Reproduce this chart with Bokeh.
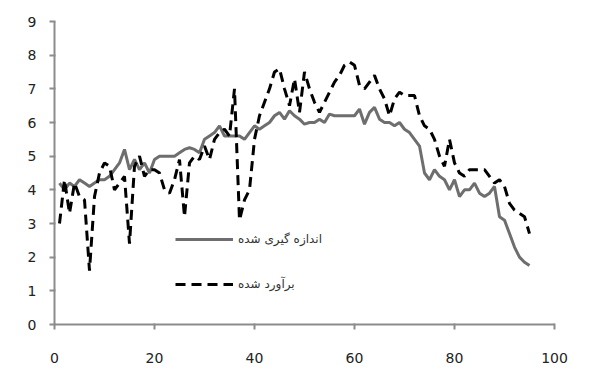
from bokeh.plotting import figure
from bokeh.models import Range1d, FixedTicker, Legend, LegendItem
from bokeh.embed import file_html
from bokeh.resources import INLINE

x_values = list(range(1, 96))

measured = [4.2, 4.0, 4.2, 4.1, 4.3, 4.2, 4.1, 4.2, 4.3, 4.3,
            4.4, 4.6, 4.8, 5.2, 4.6, 4.9, 4.6, 4.8, 4.5, 4.9,
            5.0, 5.0, 5.0, 5.0, 5.1, 5.2, 5.25, 5.2, 5.1, 5.5,
            5.6, 5.7, 5.9, 5.6, 5.6, 5.6, 5.6, 5.5, 5.7, 5.9,
            5.8, 5.9, 6.0, 6.2, 6.3, 6.1, 6.35, 6.2, 6.1, 5.95,
            6.0, 6.0, 6.1, 6.0, 6.25, 6.2, 6.2, 6.2, 6.2, 6.2,
            6.4, 5.95, 6.3, 6.45, 6.1, 6.0, 6.0, 5.9, 6.0, 5.8,
            5.7, 5.5, 5.3, 4.5, 4.3, 4.6, 4.4, 4.3, 4.0, 4.3,
            3.8, 4.0, 4.0, 4.2, 3.9, 3.8, 3.9, 4.1, 3.2, 3.1,
            2.7, 2.3, 2.0, 1.85, 1.75]

estimated = [3.0, 4.3, 3.3, 4.2, 3.8, 3.7, 1.6, 3.8, 4.5, 4.8,
             4.7, 4.0, 4.2, 4.4, 2.4, 4.7, 5.0, 4.4, 4.6, 4.6,
             4.5, 4.0, 3.9, 4.3, 4.9, 3.2, 4.8, 5.0, 4.9, 5.3,
             4.9, 5.5, 5.7, 5.8, 5.6, 7.0, 3.1, 3.7, 4.0, 5.5,
             6.2, 6.6, 7.0, 7.5, 7.6, 7.0, 6.5, 7.3, 6.3, 7.5,
             7.0, 6.6, 6.3, 6.6, 6.9, 7.2, 7.4, 7.7, 7.8, 7.7,
             7.1, 7.0, 7.2, 7.4, 7.0, 6.7, 6.2, 6.7, 6.9, 6.8,
             6.8, 6.8, 6.2, 5.9, 5.8, 5.5, 5.0, 4.7, 5.5, 4.8,
             4.5, 4.4, 4.6, 4.6, 4.6, 4.6, 4.4, 4.2, 4.3, 4.1,
             3.6, 3.4, 3.3, 3.2, 2.7]

x_ticks = [0, 20, 40, 60, 80, 100]
y_ticks = [0, 1, 2, 3, 4, 5, 6, 7, 8, 9]
label_measured = "اندازه گیری شده"
label_estimated = "برآورد شده"

W, H = 593, 373
p = figure(width=W, height=H, output_backend="svg", toolbar_location=None,
           x_range=Range1d(0, 100), y_range=Range1d(0, 9),
           min_border_left=54, min_border_top=21,
           min_border_right=8 + W - 562, min_border_bottom=8 + H - 332)
p.outline_line_color = "white"
p.xgrid.grid_line_color = "white"
p.ygrid.grid_line_color = "white"

p.xaxis.ticker = FixedTicker(ticks=x_ticks)
p.yaxis.ticker = FixedTicker(ticks=y_ticks)
p.axis.axis_line_color = "#8c8c8c"
p.axis.axis_line_width = 2
p.axis.major_tick_line_color = "#8c8c8c"
p.axis.major_tick_line_width = 2
p.axis.minor_tick_line_color = "white"
p.axis.major_tick_in = 1
p.axis.major_tick_out = 5
p.axis.major_label_text_font = "DejaVu Sans"
p.axis.major_label_text_font_size = "14px"
p.axis.major_label_text_color = "#222222"
p.yaxis.major_label_standoff = 13
p.xaxis.major_label_standoff = 23

r1 = p.line(x_values, measured, line_color="#6e6e6e", line_width=3)
r2 = p.line(x_values, estimated, line_color="#000000", line_width=3,
            line_dash="10 6")

legend = Legend(items=[LegendItem(label=label_measured, renderers=[r1]),
                       LegendItem(label=label_estimated, renderers=[r2])],
                location=(120, 29), padding=0, margin=0, spacing=25,
                glyph_width=58, glyph_height=20, label_height=20,
                label_standoff=5, border_line_color="white",
                background_fill_color="white",
                label_text_font="DejaVu Sans", label_text_font_size="12px",
                label_text_color="#333333")
p.add_layout(legend)

open("out.html", "w").write(file_html(p, INLINE))
